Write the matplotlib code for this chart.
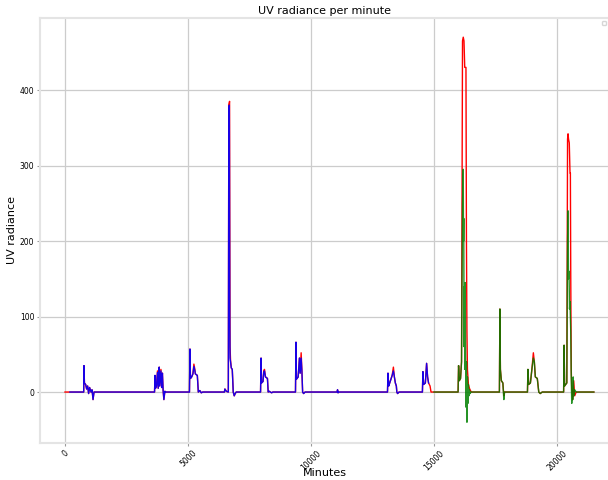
import matplotlib.pyplot as plt

# Measured UV radiance (whole period)
real_min = [0, 200, 760, 772, 790, 840, 880, 920, 960, 1000, 1060, 1100, 1140, 1180, 1300,
            3640, 3660, 3680, 3720, 3760, 3790, 3830, 3850, 3900, 3930, 3960, 3990, 4020, 4060, 4100,
            5060, 5080, 5100, 5150, 5200, 5240, 5280, 5300, 5380, 5420, 5480, 5540, 5600,
            6480, 6500, 6560, 6640, 6660, 6690, 6700, 6705, 6710, 6730, 6760, 6800, 6840, 6880, 6920, 6960,
            7950, 7970, 7990, 8050, 8080, 8110, 8150, 8230, 8260, 8300, 8400, 8450,
            9370, 9390, 9410, 9480, 9530, 9560, 9600, 9630, 9660, 9700, 9760,
            11060, 11080, 11100, 11120,
            13110, 13130, 13160, 13200, 13260, 13300, 13350, 13390, 13430, 13470, 13490, 13520, 13580,
            14530, 14550, 14580, 14650, 14700, 14740, 14780, 14840, 14880, 15000,
            15980, 16000, 16030, 16080, 16120, 16160, 16190, 16220, 16250, 16300, 16320, 16340, 16360,
            16400, 16440, 16480, 16520,
            17660, 17680, 17700, 17740, 17800, 17840, 17870,
            18800, 18820, 18850, 18920, 18980, 19040, 19080, 19120, 19200, 19260, 19320, 19400,
            20270, 20290, 20310, 20400, 20430, 20450, 20470, 20500, 20530, 20545, 20560, 20580, 20600,
            20640, 20680, 20720, 20780, 21500]
real_uv = [0, 0, 0, 35, 12, 10, 4, 8, -2, 6, 0, 3, -10, 0, 0,
           0, 22, 5, 8, 28, 5, 33, 8, 30, 6, 25, 2, -10, 1, 0,
           0, 57, 18, 20, 24, 37, 30, 24, 22, 0, 2, -1, 0,
           0, 4, 1, 0, 380, 385, 230, 210, 60, 42, 32, 30, 0, -5, -2, 0,
           0, 45, 12, 14, 28, 30, 20, 18, 0, 1, -1, 0,
           0, 66, 17, 20, 45, 25, 52, 30, 0, -2, 0,
           0, 3, -1, 0,
           0, 25, 8, 12, 18, 22, 33, 20, 12, 8, 0, -2, 0,
           0, 27, 10, 12, 38, 20, 12, 8, 0, 0,
           0, 35, 15, 18, 40, 465, 470, 465, 430, 430, 200, 80, 30,
           10, 5, 2, 0,
           0, 110, 30, 15, 12, -5, 0,
           0, 30, 10, 12, 30, 52, 40, 20, 18, 0, -2, 0,
           0, 62, 8, 12, 335, 342, 335, 330, 290, 290, 155, 30, 5,
           -10, 15, -5, 0, 0]

# Fitted values on the training part
train_min = [200, 760, 772, 790, 840, 880, 920, 960, 1000, 1060, 1100, 1140, 1180, 1300,
             3640, 3660, 3680, 3720, 3760, 3790, 3830, 3850, 3900, 3930, 3960, 3990, 4020, 4060, 4100,
             5060, 5080, 5100, 5150, 5200, 5240, 5280, 5300, 5380, 5420, 5480, 5540, 5600,
             6480, 6500, 6560, 6640, 6660, 6680, 6700, 6710, 6730, 6760, 6800, 6840, 6880, 6920, 6960,
             7950, 7970, 7990, 8050, 8080, 8110, 8150, 8230, 8260, 8300, 8400, 8450,
             9370, 9390, 9410, 9480, 9530, 9560, 9600, 9630, 9660, 9700, 9760,
             11060, 11080, 11100, 11120,
             13110, 13130, 13160, 13200, 13260, 13300, 13350, 13390, 13430, 13470, 13490, 13520, 13580,
             14530, 14550, 14580, 14650, 14700, 14740, 14780]
train_uv = [0, 0, 35, 12, 10, 4, 8, -2, 6, 0, 3, -10, 0, 0,
            0, 22, 5, 8, 26, 5, 33, 8, 28, 6, 25, 2, -10, 1, 0,
            0, 57, 18, 20, 24, 34, 28, 24, 22, 0, 2, -1, 0,
            0, 4, 1, 0, 375, 380, 90, 45, 40, 32, 30, 0, -5, -2, 0,
            0, 45, 12, 14, 26, 28, 20, 18, 0, 1, -1, 0,
            0, 66, 17, 20, 45, 25, 45, 28, 0, -2, 0,
            0, 3, -1, 0,
            0, 25, 8, 12, 18, 22, 28, 20, 12, 8, 0, -2, 0,
            0, 27, 10, 12, 38, 20, 12]

# Predicted values on the test part
test_min = [15000, 15980, 16000, 16030, 16080, 16120, 16160, 16190, 16200, 16210, 16225, 16240,
            16255, 16270, 16285, 16300, 16320, 16340, 16360, 16380, 16400, 16420, 16440, 16470, 16500,
            17660, 17680, 17700, 17740, 17800, 17840, 17870, 17950,
            18800, 18820, 18850, 18920, 18980, 19040, 19080, 19120, 19200, 19260, 19320, 19400,
            20270, 20290, 20310, 20400, 20430, 20450, 20470, 20490, 20510, 20530, 20560, 20580,
            20600, 20620, 20640, 20660, 20680, 20720, 20780, 21500]
test_uv = [0, 0, 35, 15, 18, 40, 250, 295, 200, 230, 60, 140, 30, 145, 50, -20, 40, -40,
           20, -15, 10, -5, 3, -2, 0,
           0, 110, 30, 15, 12, -10, 0, 0,
           0, 30, 10, 12, 30, 45, 40, 20, 18, 0, -2, 0,
           0, 62, 8, 12, 200, 240, 150, 160, 110, 120, 80, 20,
           -15, 10, -10, 20, -5, 3, 0, 0]

fig = plt.figure(figsize=(6.08, 4.8), dpi=100)
ax = fig.add_axes([40 / 608, 37 / 480, 569 / 608, 425 / 480])

ax.plot(real_min, real_uv, color='red', lw=1)
ax.plot(train_min, train_uv, color='blue', lw=1, alpha=0.9)
ax.plot(test_min, test_uv, color='green', lw=1, alpha=0.85)

ax.set_xlim(-1016, 22115)
ax.set_ylim(-67.5, 495.4)
ax.set_xticks([0, 5000, 10000, 15000, 20000])
ax.set_yticks([0, 100, 200, 300, 400])
ax.tick_params(axis='both', labelsize=5.5, length=2, pad=2, color='#999999')
plt.setp(ax.get_xticklabels(), rotation=45)
ax.grid(True, color='#cccccc', lw=0.9)
ax.set_axisbelow(True)
for s in ax.spines.values():
    s.set_color('#e4e4e4')
    s.set_linewidth(1.5)

ax.set_title('UV radiance per minute', fontsize=8, pad=3)
ax.set_xlabel('Minutes', fontsize=8)
ax.set_ylabel('UV radiance', fontsize=8)
ax.xaxis.set_label_coords(0.5, -0.059)
ax.yaxis.set_label_coords(-0.041, 0.5)
ax.legend(loc='upper right', fontsize=4)

fig.savefig('out.png', dpi=100)
